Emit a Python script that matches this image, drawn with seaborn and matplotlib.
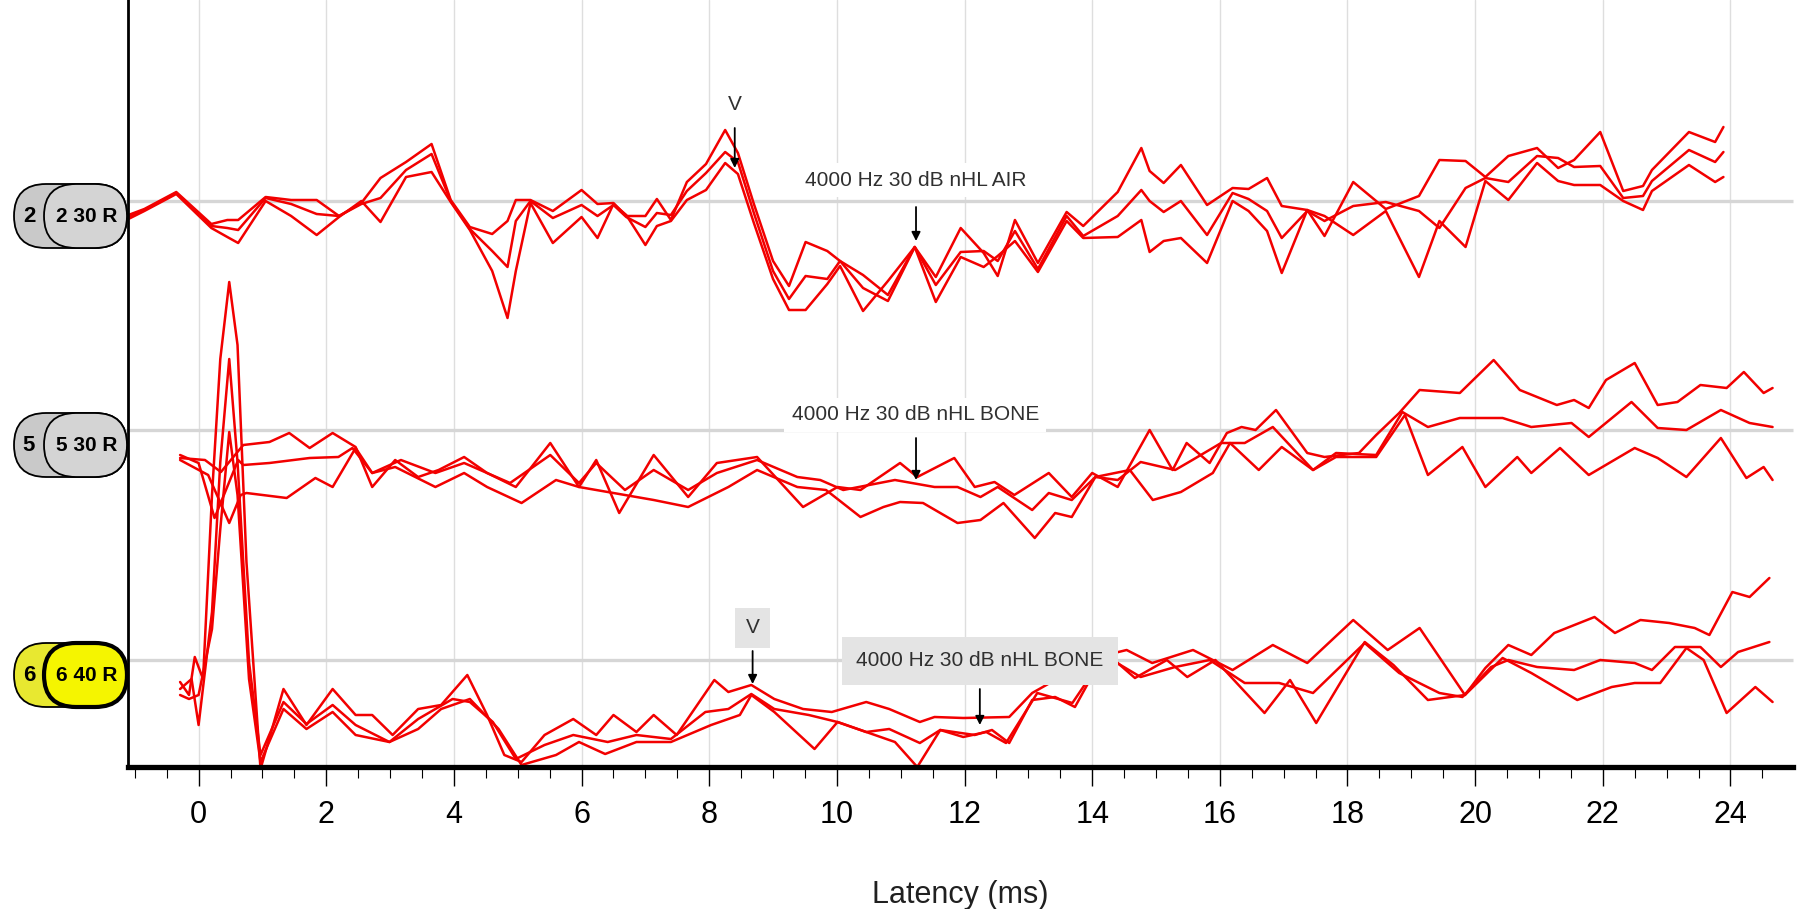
import numpy as np
import pandas as pd
import matplotlib
matplotlib.use("Agg")
import matplotlib.pyplot as plt
import matplotlib.transforms as mtransforms
from matplotlib.patches import FancyBboxPatch
import seaborn as sns

# ---------------- data (latency in ms, amplitude in display units) ----------------
air_ms = [-1.10, -0.85, -0.35, 0.20, 0.45, 0.62, 1.05, 1.45, 1.85, 2.20, 2.55, 2.85, 3.25, 3.65, 3.95,
          4.25, 4.60, 4.84, 4.97, 5.20, 5.55, 6.00, 6.25, 6.50, 6.70, 7.00, 7.18, 7.40, 7.65, 7.95,
          8.25, 8.45, 8.70, 9.00, 9.25, 9.51, 9.85, 10.05, 10.41, 10.80, 11.22, 11.55, 11.94, 12.30, 12.52,
          12.79, 13.15, 13.60, 13.86, 14.40, 14.77, 14.90, 15.12, 15.39, 15.80, 16.20, 16.45, 16.74, 16.97, 17.37,
          17.64, 18.09, 18.60, 19.12, 19.44, 19.85, 20.16, 20.52, 20.97, 21.30, 21.55, 21.96, 22.32, 22.63, 22.77,
          23.35, 23.76, 23.89]
air_trace1 = [-1.4, -0.8, 0.9, -2.3, -1.9, -1.9, 0.4, 0.1, 0.1, -1.5, -0.2, 2.3, 3.9, 5.7, 0.1,
              -2.6, -3.3, -2.0, 0.1, 0.1, -1.0, 1.1, -0.3, -0.2, -1.5, -1.5, 0.2, -1.9, 1.9, 3.7,
              7.1, 4.8, -0.3, -6.0, -8.5, -4.1, -5.0, -6.0, -7.4, -9.4, -4.6, -7.6, -2.7, -5.2, -7.5,
              -1.9, -6.2, -1.1, -2.5, 0.9, 5.3, 3.0, 1.8, 3.6, -0.4, 1.3, 1.2, 2.3, -0.5, -0.9,
              -3.5, 1.9, -0.8, 0.5, 4.1, 4.0, 2.4, 4.5, 5.3, 3.3, 4.1, 6.9, 1.0, 1.5, 3.1,
              6.9, 5.9, 7.4]
air_trace2 = [-1.6, -0.9, 0.8, -2.5, -2.7, -2.9, 0.3, -0.3, -1.3, -1.5, -0.3, 0.3, 3.1, 4.7, 0.0,
              -2.8, -5.0, -6.6, -2.0, 0.0, -1.7, -0.4, -1.5, -0.4, -1.6, -2.6, -1.2, -1.4, 1.0, 2.8,
              4.9, 3.9, -1.2, -7.0, -9.8, -7.5, -7.8, -6.0, -8.7, -10.0, -4.6, -8.4, -5.1, -5.0, -6.0,
              -3.0, -6.8, -1.5, -3.5, -1.5, 1.1, 0.0, -1.1, 0.0, -3.4, 0.8, 0.2, -1.0, -3.7, -1.0,
              -2.0, -0.5, -0.1, -1.0, -2.7, 1.3, 2.3, 1.9, 4.5, 4.3, 3.4, 3.5, 0.3, 0.5, 2.0,
              5.1, 3.9, 4.9]
air_trace3 = [-1.8, -1.0, 0.7, -2.7, -3.6, -4.2, 0.0, -1.5, -3.4, -1.6, 0.0, -2.1, 2.4, 2.9, -0.1,
              -2.9, -7.0, -11.7, -7.0, -0.2, -4.2, -1.6, -3.7, -0.3, -1.4, -4.4, -2.5, -2.0, 0.1, 1.1,
              3.8, 2.7, -2.2, -7.8, -10.9, -10.9, -8.3, -6.5, -11.0, -8.0, -4.6, -10.1, -5.6, -6.6, -5.5,
              -4.0, -7.1, -2.0, -3.7, -3.6, -1.9, -5.1, -4.0, -3.7, -6.2, 0.0, -1.0, -3.0, -7.2, -0.9,
              -1.5, -3.4, -1.0, -7.6, -2.0, -4.6, 2.0, 0.1, 3.8, 2.0, 1.6, 1.6, 0.0, -0.9, 1.0,
              3.6, 1.9, 2.4]

bone30_ms_1 = [-0.29, 0.10, 0.35, 0.70, 1.11, 1.42, 1.74, 2.10, 2.46, 2.72, 3.08, 3.44, 3.76, 4.16, 4.52,
               4.97, 5.51, 5.96, 6.23, 6.59, 7.13, 7.67, 8.12, 8.75, 9.47, 10.01, 10.37, 10.99, 11.26, 11.84,
               12.16, 12.47, 12.78, 13.32, 13.68, 14.00, 14.40, 14.90, 15.26, 15.48, 15.84, 16.11, 16.34, 16.56, 16.88,
               17.37, 17.64, 18.18, 18.45, 18.81, 19.13, 19.76, 20.29, 20.70, 21.28, 21.55, 21.78, 22.05, 22.50, 22.86,
               23.17, 23.53, 23.94, 24.21, 24.52, 24.66]
bone30_amp_1 = [-2.8, -3.0, -4.2, -1.5, -1.2, -0.3, -1.8, -0.3, -1.7, -5.7, -3.0, -4.7, -4.0, -2.7, -4.3,
                -5.7, -1.3, -5.7, -3.0, -8.3, -2.5, -6.7, -3.3, -2.7, -7.7, -5.7, -6.0, -3.3, -4.7, -2.8,
                -5.7, -5.2, -6.5, -4.3, -6.7, -4.3, -5.7, 0.0, -4.0, -1.3, -3.3, -0.3, 0.3, 0.0, 2.0,
                -2.3, -2.7, -2.3, -0.5, 1.7, 4.0, 3.7, 7.0, 4.0, 2.5, 3.0, 2.2, 5.0, 6.7, 2.5,
                2.8, 4.5, 4.2, 5.8, 3.7, 4.2]
bone30_ms_2 = [-0.29, 0.00, 0.25, 0.62, 0.70, 1.11, 1.74, 2.19, 2.41, 2.72, 3.17, 3.71, 4.16, 4.88, 5.51,
               5.96, 6.23, 6.68, 7.13, 7.67, 8.12, 8.75, 9.38, 9.74, 10.10, 10.91, 11.53, 11.89, 12.25, 12.52,
               13.06, 13.32, 13.68, 14.05, 14.40, 14.76, 15.30, 15.57, 16.02, 16.39, 16.83, 17.46, 17.82, 18.45, 18.86,
               19.26, 19.76, 20.43, 20.88, 21.51, 21.78, 22.45, 22.86, 23.31, 23.85, 24.30, 24.66]
bone30_amp_2 = [-2.5, -3.3, -8.8, -3.0, -3.5, -3.3, -2.8, -2.7, -1.8, -4.3, -3.0, -4.3, -3.3, -5.3, -2.5,
                -5.3, -3.3, -6.0, -4.0, -6.0, -4.3, -3.0, -4.7, -5.0, -6.0, -5.0, -5.7, -5.7, -6.7, -5.7,
                -8.0, -6.3, -7.0, -4.7, -5.0, -3.2, -4.0, -3.0, -1.3, -1.3, 0.3, -4.0, -2.3, -2.5, 1.8,
                0.3, 1.2, 1.2, 0.3, 0.7, -0.7, 2.8, 0.2, 0.0, 2.0, 0.7, 0.3]
bone30_ms_3 = [-0.29, 0.15, 0.48, 0.66, 0.75, 1.38, 1.83, 2.10, 2.46, 2.72, 3.08, 3.71, 4.16, 4.52, 5.06,
               5.60, 5.96, 6.50, 7.13, 7.67, 8.30, 8.75, 9.38, 9.83, 10.37, 10.73, 10.99, 11.35, 11.89, 12.25,
               12.61, 13.10, 13.42, 13.68, 14.05, 14.59, 14.95, 15.39, 15.89, 16.16, 16.61, 16.97, 17.46, 17.82, 18.45,
               18.90, 19.26, 19.80, 20.16, 20.66, 20.88, 21.33, 21.78, 22.50, 22.86, 23.31, 23.85, 24.25, 24.52, 24.66]
bone30_amp_3 = [-3.0, -4.5, -9.3, -6.5, -6.3, -6.8, -4.8, -5.7, -1.8, -4.3, -3.7, -5.7, -4.3, -5.7, -7.3,
                -5.0, -5.7, -6.3, -7.0, -7.7, -5.7, -4.0, -5.7, -6.0, -8.7, -7.7, -7.2, -7.3, -9.3, -9.0,
                -7.3, -10.8, -8.3, -8.7, -4.7, -4.0, -7.0, -6.2, -4.3, -1.3, -4.0, -1.7, -4.0, -2.7, -2.7,
                1.5, -4.5, -1.7, -5.7, -2.7, -4.3, -1.8, -4.5, -1.8, -2.8, -4.7, -0.8, -4.8, -3.7, -5.0]

bone40_ms_1 = [-0.29, -0.15, -0.06, 0.07, 0.21, 0.34, 0.48, 0.61, 0.75, 0.97, 1.33, 1.69, 2.10, 2.46, 2.72,
               3.04, 3.44, 3.80, 4.21, 4.52, 4.79, 5.06, 5.42, 5.87, 6.23, 6.50, 6.86, 7.13, 7.49, 8.08,
               8.30, 8.66, 9.02, 9.47, 9.92, 10.46, 10.82, 11.30, 11.53, 11.98, 12.70, 13.06, 13.42, 13.77, 14.09,
               14.54, 14.94, 15.58, 16.20, 16.83, 17.37, 18.09, 18.63, 19.13, 19.84, 20.16, 20.52, 20.88, 21.24, 21.87,
               22.19, 22.59, 23.04, 23.44, 23.67, 24.03, 24.30, 24.61]
bone40_amp_1 = [-2.2, -3.5, 0.3, -1.9, 16.5, 30.1, 37.8, 31.5, 9.8, -10.9, -2.9, -6.5, -2.9, -5.5, -5.5,
                -7.5, -4.9, -4.5, -1.5, -5.5, -9.5, -10.2, -7.5, -5.9, -7.5, -5.5, -7.2, -5.5, -7.5, -2.0,
                -3.2, -2.5, -3.9, -4.9, -5.2, -4.2, -4.9, -6.2, -5.7, -5.8, -5.7, -3.3, -2.0, -1.3, 0.3,
                1.0, -0.3, 1.0, -1.0, 1.5, -0.3, 4.0, 1.0, 3.2, -3.5, -0.8, 1.5, 0.5, 2.7, 4.3,
                2.7, 4.0, 3.7, 3.2, 2.5, 6.8, 6.3, 8.2]
bone40_ms_2 = [-0.29, -0.11, 0.00, 0.21, 0.34, 0.48, 0.61, 0.79, 0.97, 1.33, 1.69, 2.10, 2.46, 2.99, 3.44,
               3.98, 4.25, 4.61, 4.97, 5.42, 5.87, 6.41, 6.86, 7.40, 7.94, 8.30, 8.66, 9.02, 9.56, 10.01,
               10.46, 10.82, 11.30, 11.62, 12.16, 12.43, 12.70, 13.06, 13.42, 13.73, 14.18, 14.76, 15.30, 15.84, 16.39,
               16.93, 17.46, 18.27, 18.81, 19.44, 19.80, 20.25, 20.52, 20.97, 21.55, 21.96, 22.50, 22.77, 23.13, 23.53,
               23.85, 24.12, 24.61]
bone40_amp_2 = [-2.9, -1.9, -6.5, 4.8, 19.8, 30.1, 19.8, -0.2, -9.5, -4.2, -6.4, -4.5, -6.5, -8.2, -5.9,
                -3.9, -4.2, -6.2, -9.9, -8.5, -7.5, -8.2, -7.5, -7.9, -5.2, -4.9, -3.4, -4.9, -5.5, -6.2,
                -7.2, -6.9, -8.3, -7.0, -7.5, -7.0, -8.3, -4.0, -3.7, -4.7, 0.5, -1.7, -0.7, 0.0, -2.3,
                -2.3, -3.3, 1.7, -1.3, -3.3, -3.7, -0.7, 0.0, -0.7, -1.0, 0.0, -0.3, -1.0, 1.3, 1.3,
                -0.7, 0.8, 1.8]
bone40_ms_3 = [-0.29, -0.15, 0.00, 0.21, 0.34, 0.48, 0.61, 0.79, 0.97, 1.33, 1.69, 2.10, 2.46, 2.99, 3.44,
               3.80, 4.25, 4.70, 5.06, 5.60, 5.96, 6.37, 6.86, 7.40, 8.03, 8.48, 8.66, 9.02, 9.65, 10.01,
               10.46, 10.91, 11.26, 11.62, 11.98, 12.34, 12.65, 13.14, 13.69, 14.22, 14.67, 15.17, 15.49, 15.93, 16.70,
               17.10, 17.51, 18.27, 18.72, 19.26, 19.84, 20.43, 20.88, 21.60, 22.14, 22.50, 22.90, 23.31, 23.58, 23.94,
               24.39, 24.66]
bone40_amp_3 = [-3.5, -3.9, -3.5, 3.1, 13.1, 22.8, 16.5, -1.9, -10.2, -4.9, -6.9, -5.2, -7.5, -8.2, -6.9,
                -4.9, -3.9, -6.9, -10.5, -9.5, -8.2, -9.4, -8.2, -8.2, -6.5, -5.5, -3.5, -5.2, -8.9, -6.2,
                -7.2, -8.2, -10.7, -7.0, -7.7, -7.2, -8.3, -3.3, -4.3, 0.7, -1.8, 0.0, -1.7, 0.0, -5.3,
                -2.0, -6.3, 1.8, -0.5, -4.0, -3.5, 0.2, -1.3, -4.0, -2.7, -2.3, -2.3, 1.2, 0.0, -5.3,
                -2.7, -4.2]

x_ticks = [0, 2, 4, 6, 8, 10, 12, 14, 16, 18, 20, 22, 24]
x_label = "Latency (ms)"
group_labels = ["4000 Hz 30 dB nHL AIR", "4000 Hz 30 dB nHL BONE", "4000 Hz 30 dB nHL BONE"]
badge_left = ["2", "5", "6"]
badge_right = ["2 30 R", "5 30 R", "6 40 R"]

# ---------------- layout constants ----------------
W, H = 1800, 909
offsets = [0.0, -22.9, -45.9]          # vertical position of each recording row
RED = "#F20000"

rows = []
def add(group, name, xs, ys):
    n = min(len(xs), len(ys))
    for x, y in zip(xs[:n], ys[:n]):
        rows.append({"ms": x, "amp": y, "row": group, "trace": name})

add(0, "air1", air_ms, air_trace1)
add(0, "air2", air_ms, air_trace2)
add(0, "air3", air_ms, air_trace3)
add(1, "b30_1", bone30_ms_1, bone30_amp_1)
add(1, "b30_2", bone30_ms_2, bone30_amp_2)
add(1, "b30_3", bone30_ms_3, bone30_amp_3)
add(2, "b40_1", bone40_ms_1, bone40_amp_1)
add(2, "b40_2", bone40_ms_2, bone40_amp_2)
add(2, "b40_3", bone40_ms_3, bone40_amp_3)
df = pd.DataFrame(rows)
df["y"] = df["amp"] + df["row"].map(lambda r: offsets[r])

sns.set_theme(style="white")
plt.rcParams["font.family"] = ["Liberation Sans Narrow", "Liberation Sans", "DejaVu Sans"]

fig = plt.figure(figsize=(W / 100, H / 100), dpi=100)
ax = fig.add_axes([128 / W, 1 - 767 / H, 1665 / W, 767 / H])
ax.set_facecolor("white")

x0, x1 = -1.106, 24.98
ax.set_xlim(x0, x1)
ax.set_ylim(-56.6, 20.1)

# grid & baselines
for t in x_ticks:
    ax.axvline(t, color="#DEDEDE", lw=1.0, zorder=0)
blend = mtransforms.blended_transform_factory(ax.transAxes, ax.transData)
for off in offsets:
    ax.plot([-0.06, 1.0], [off, off], transform=blend, color="#D6D6D6", lw=2.4,
            zorder=0.5, clip_on=False, solid_capstyle="butt")

sns.lineplot(data=df, x="ms", y="y", units="trace", estimator=None, sort=False,
             color=RED, lw=1.8, ax=ax, legend=False, zorder=2)

# annotations
txt_kw = dict(ha="center", va="center", fontsize=15, color="#303030")
ax.text(11.23, offsets[0] + 2.1, group_labels[0], zorder=1.5,
        bbox=dict(boxstyle="square,pad=0.35", fc="white", ec="none"), **txt_kw)
ax.text(11.23, offsets[1] + 1.5, group_labels[1], zorder=1.5,
        bbox=dict(boxstyle="square,pad=0.35", fc="white", ec="none"), **txt_kw)
ax.text(12.24, offsets[2] - 0.1, group_labels[2], zorder=3,
        bbox=dict(boxstyle="square,pad=0.7", fc="#E4E4E4", ec="none"), **txt_kw)
ax.text(8.40, 9.7, "V", zorder=3, **txt_kw)
ax.text(8.68, offsets[2] + 3.2, "V", zorder=3,
        bbox=dict(boxstyle="square,pad=0.5", fc="#E4E4E4", ec="none"), **txt_kw)

arrow_kw = dict(arrowstyle="-|>", color="black", lw=1.3, mutation_scale=13, shrinkA=0, shrinkB=0)
def arrow(x, y_from, y_to):
    ax.annotate("", xy=(x, y_to), xytext=(x, y_from), arrowprops=arrow_kw, zorder=4)
arrow(8.40, 7.3, 3.3)
arrow(11.24, offsets[0] - 0.6, offsets[0] - 4.0)
arrow(11.24, offsets[1] - 0.8, offsets[1] - 5.0)
arrow(8.68, offsets[2] + 0.9, offsets[2] - 2.4)
arrow(12.24, offsets[2] - 2.9, offsets[2] - 6.5)

# axes styling
ax.set_xticks(x_ticks)
ax.set_xticks(np.arange(-1.0, 24.6, 0.5), minor=True)
ax.set_yticks([])
ax.tick_params(axis="x", which="major", direction="out", length=13.5, width=1.0, color="black",
               pad=10, labelsize=22, labelcolor="black", bottom=True)
ax.tick_params(axis="x", which="minor", direction="out", length=8, width=0.8, color="black", bottom=True)
ax.set_xlabel(x_label, fontsize=22, labelpad=36, color="#202020")
ax.set_ylabel("")
for s in ["top", "right"]:
    ax.spines[s].set_visible(False)
ax.spines["bottom"].set_linewidth(3.8)
ax.spines["bottom"].set_color("black")
ax.spines["left"].set_linewidth(2.0)
ax.spines["left"].set_color("black")

# left badges (drawn in pixel space)
fig.canvas.draw()
bx = fig.add_axes([0, 0, 1, 1], zorder=5)
bx.set_xlim(0, W)
bx.set_ylim(H, 0)
bx.axis("off")
bx.patch.set_alpha(0)
for i, off in enumerate(offsets):
    cy = H - ax.transData.transform((0, off))[1] + 15
    h = 64
    yellow = (i == 2)
    outer_fc = "#E8E830" if yellow else "#C9C9C9"
    inner_fc = "#F5F500" if yellow else "#D4D4D4"
    bx.add_patch(FancyBboxPatch((14, cy - h / 2), 113, h, boxstyle=f"round,pad=0,rounding_size={h/2}",
                                fc=outer_fc, ec="black", lw=1.3))
    bx.add_patch(FancyBboxPatch((44, cy - h / 2), 83, h, boxstyle=f"round,pad=0,rounding_size={h/2}",
                                fc=inner_fc, ec="black", lw=3.0 if yellow else 1.3))
    bx.text(29, cy + 1, badge_left[i], ha="center", va="center", fontsize=16, fontweight="bold", color="black")
    bx.text(87, cy + 1, badge_right[i], ha="center", va="center", fontsize=15, fontweight="bold", color="black")

fig.savefig("out.png", dpi=100, facecolor="white")
